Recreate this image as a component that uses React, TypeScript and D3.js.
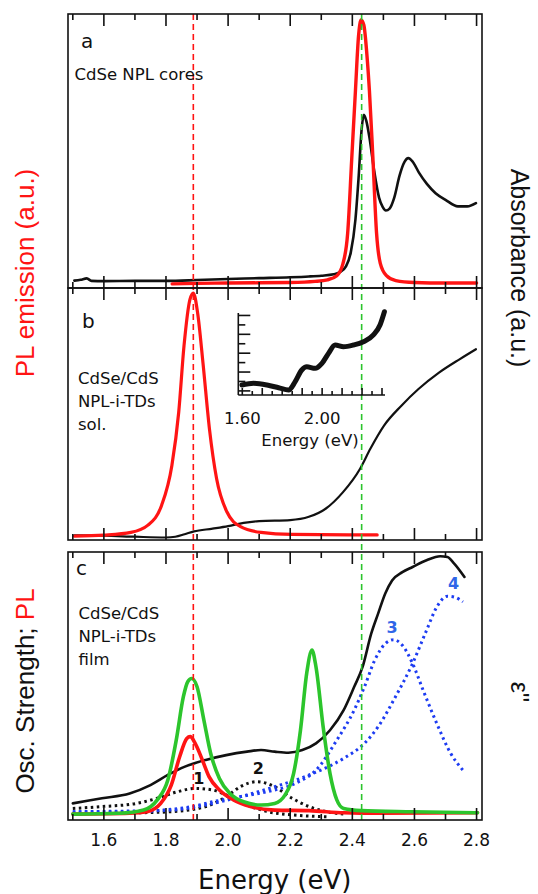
import React from 'react';
import * as d3 from 'd3';

type Pt = [number, number];

// energy axis ticks (eV)
const majorTicks = [1.6, 1.8, 2.0, 2.2, 2.4, 2.6, 2.8];
const minorTicks = [1.5, 1.7, 1.9, 2.1, 2.3, 2.5, 2.7];
const tickLabels = ['1.6', '1.8', '2.0', '2.2', '2.4', '2.6', '2.8'];
const redLineE = 1.888;
const greenLineE = 2.43;

// inset ticks
const insetMajor = [1.6, 1.7, 1.8, 1.9, 2.0, 2.1, 2.2, 2.3];
const insetMinor = [1.65, 1.75, 1.85, 1.95, 2.05, 2.15, 2.25];
const insetLabels: [number, string][] = [[1.6, '1.60'], [2.0, '2.00']];
const insetYTicks = [0.05, 0.165, 0.28, 0.395, 0.51, 0.625, 0.74, 0.855, 0.97];

// panel a: CdSe NPL cores
const absA: Pt[] = [
  [1.505, 0.027], [1.525, 0.03], [1.545, 0.035], [1.56, 0.026], [1.6, 0.025], [1.7, 0.026],
  [1.8, 0.026], [1.9, 0.029], [2.0, 0.033], [2.1, 0.036], [2.2, 0.039], [2.26, 0.042],
  [2.3, 0.045], [2.34, 0.05], [2.36, 0.058], [2.38, 0.08], [2.395, 0.13], [2.41, 0.25],
  [2.42, 0.4], [2.43, 0.58], [2.437, 0.632], [2.445, 0.61], [2.455, 0.55], [2.47, 0.43],
  [2.486, 0.33], [2.498, 0.295], [2.508, 0.283], [2.52, 0.29], [2.535, 0.33], [2.552, 0.41],
  [2.568, 0.46], [2.58, 0.474], [2.595, 0.46], [2.615, 0.42], [2.64, 0.38], [2.668, 0.346],
  [2.7, 0.322], [2.74, 0.298], [2.77, 0.298], [2.798, 0.31],
];
const plA: Pt[] = [
  [1.82, 0.015], [1.9, 0.017], [2.0, 0.018], [2.1, 0.019], [2.2, 0.02], [2.28, 0.024],
  [2.32, 0.03], [2.35, 0.045], [2.37, 0.09], [2.385, 0.2], [2.398, 0.47], [2.41, 0.72],
  [2.42, 0.92], [2.428, 0.978], [2.437, 0.96], [2.447, 0.85], [2.455, 0.72], [2.466, 0.48],
  [2.478, 0.2], [2.49, 0.09], [2.51, 0.045], [2.54, 0.027], [2.6, 0.02], [2.7, 0.018], [2.8, 0.018],
];

// panel b: CdSe/CdS NPL-i-TDs solution
const absB: Pt[] = [
  [1.505, 0.018], [1.6, 0.017], [1.7, 0.013], [1.8, 0.01], [1.83, 0.013], [1.86, 0.023],
  [1.89, 0.034], [1.95, 0.045], [2.0, 0.055], [2.05, 0.068], [2.1, 0.075], [2.2, 0.079],
  [2.26, 0.092], [2.315, 0.125], [2.37, 0.19], [2.425, 0.283], [2.458, 0.362], [2.502, 0.454],
  [2.558, 0.533], [2.613, 0.599], [2.679, 0.664], [2.745, 0.717], [2.798, 0.757],
];
const plB: Pt[] = [
  [1.505, 0.015], [1.6, 0.019], [1.687, 0.03], [1.742, 0.059], [1.786, 0.138], [1.819, 0.296],
  [1.841, 0.507], [1.858, 0.77], [1.877, 0.954], [1.888, 0.98], [1.902, 0.9], [1.919, 0.704],
  [1.94, 0.44], [1.963, 0.243], [1.996, 0.112], [2.04, 0.053], [2.106, 0.03], [2.205, 0.022],
  [2.48, 0.02],
];
const insetAbs: Pt[] = [
  [1.598, 0.122], [1.657, 0.142], [1.724, 0.122], [1.782, 0.089], [1.832, 0.061], [1.865, 0.162],
  [1.898, 0.305], [1.923, 0.345], [1.965, 0.325], [1.999, 0.386], [2.032, 0.508], [2.065, 0.61],
  [2.107, 0.589], [2.157, 0.61], [2.207, 0.65], [2.257, 0.732], [2.29, 0.854], [2.312, 1.016],
];

// panel c: film, oscillator strengths and PL
const absC: Pt[] = [
  [1.5, 0.062], [1.594, 0.081], [1.683, 0.099], [1.75, 0.13], [1.806, 0.168], [1.861, 0.199],
  [1.928, 0.224], [1.994, 0.242], [2.061, 0.255], [2.106, 0.261], [2.15, 0.255], [2.194, 0.251],
  [2.239, 0.261], [2.283, 0.286], [2.328, 0.335], [2.372, 0.41], [2.406, 0.497], [2.433, 0.571],
  [2.461, 0.696], [2.483, 0.77], [2.506, 0.845], [2.528, 0.894], [2.561, 0.925], [2.594, 0.944],
  [2.639, 0.969], [2.683, 0.984], [2.706, 0.981], [2.728, 0.957], [2.761, 0.907],
];
const osc1: Pt[] = [
  [1.5, 0.043], [1.594, 0.05], [1.706, 0.062], [1.772, 0.081], [1.839, 0.106], [1.894, 0.118],
  [1.95, 0.112], [2.006, 0.087], [2.061, 0.056], [2.128, 0.031], [2.206, 0.019], [2.317, 0.012],
];
const osc2: Pt[] = [
  [1.5, 0.025], [1.706, 0.027], [1.817, 0.031], [1.928, 0.05], [1.994, 0.087], [2.039, 0.124],
  [2.094, 0.143], [2.15, 0.124], [2.206, 0.081], [2.261, 0.05], [2.317, 0.031], [2.372, 0.022],
];
const osc3: Pt[] = [
  [1.5, 0.031], [1.706, 0.031], [1.817, 0.04], [1.883, 0.05], [1.95, 0.068], [2.039, 0.087],
  [2.128, 0.106], [2.217, 0.137], [2.283, 0.186], [2.35, 0.298], [2.406, 0.41], [2.439, 0.497],
  [2.472, 0.596], [2.506, 0.658], [2.533, 0.673], [2.561, 0.652], [2.594, 0.584], [2.628, 0.484],
  [2.672, 0.36], [2.717, 0.248], [2.756, 0.186],
];
const osc4: Pt[] = [
  [1.5, 0.031], [1.817, 0.037], [1.928, 0.056], [2.039, 0.087], [2.15, 0.124], [2.261, 0.168],
  [2.372, 0.23], [2.439, 0.286], [2.483, 0.348], [2.539, 0.46], [2.594, 0.584], [2.639, 0.708],
  [2.672, 0.795], [2.706, 0.835], [2.728, 0.832], [2.756, 0.814],
];
const plRedC: Pt[] = [
  [1.5, 0.022], [1.683, 0.025], [1.739, 0.031], [1.783, 0.062], [1.817, 0.13], [1.844, 0.236],
  [1.867, 0.304], [1.878, 0.311], [1.894, 0.286], [1.917, 0.224], [1.939, 0.161], [1.972, 0.112],
  [2.017, 0.075], [2.072, 0.05], [2.15, 0.037], [2.261, 0.035], [2.372, 0.027], [2.483, 0.025],
  [2.803, 0.027],
];
const plGreenC: Pt[] = [
  [1.5, 0.022], [1.65, 0.025], [1.728, 0.037], [1.772, 0.075], [1.806, 0.149], [1.833, 0.298],
  [1.856, 0.46], [1.87, 0.516], [1.883, 0.528], [1.9, 0.497], [1.922, 0.373], [1.944, 0.248],
  [1.972, 0.155], [2.006, 0.099], [2.05, 0.068], [2.106, 0.056], [2.15, 0.062], [2.183, 0.093],
  [2.211, 0.174], [2.233, 0.335], [2.253, 0.547], [2.27, 0.634], [2.283, 0.571], [2.306, 0.348],
  [2.328, 0.174], [2.35, 0.075], [2.372, 0.043], [2.428, 0.035], [2.594, 0.031], [2.803, 0.027],
];
const oscLabels: [string, number, number, string][] = [
  ['1', 1.906, 0.135, '#111'],
  ['2', 2.097, 0.172, '#111'],
  ['3', 2.528, 0.697, '#2f66e8'],
  ['4', 2.726, 0.862, '#2f66e8'],
];

const RED = '#ff1414';
const GREEN = '#2cc52c';
const BLUE = '#1d3cf2';
const sans = "'DejaVu Sans', Verdana, sans-serif";
const arial = "'Liberation Sans', Arial, sans-serif";

const x = d3.scaleLinear().domain([1.4845, 2.8175]).range([68, 482]);
const panels = [
  { y: d3.scaleLinear().domain([0, 1]).range([288, 14]) },
  { y: d3.scaleLinear().domain([0, 1]).range([540, 288]) },
  { y: d3.scaleLinear().domain([0, 1]).range([820, 552]) },
];
const [yA, yB, yC] = panels.map(p => p.y);
const xIn = d3.scaleLinear().domain([1.58, 2.315]).range([238.3, 385]);
const yIn = d3.scaleLinear().domain([0, 1]).range([395, 313]);

function linePath(data: Pt[], xs: d3.ScaleLinear<number, number>, ys: d3.ScaleLinear<number, number>) {
  return d3.line<Pt>().x(d => xs(d[0])).y(d => ys(d[1])).curve(d3.curveMonotoneX)(data) || '';
}

function Frame({ ys }: { ys: d3.ScaleLinear<number, number> }) {
  const [x0, x1] = x.range();
  const yb = ys(0), yt = ys(1);
  const ticks: JSX.Element[] = [];
  majorTicks.forEach((t, i) => {
    ticks.push(<line key={'mt' + i} x1={x(t)} x2={x(t)} y1={yt} y2={yt + 12} />);
    ticks.push(<line key={'mb' + i} x1={x(t)} x2={x(t)} y1={yb} y2={yb - 12} />);
  });
  minorTicks.forEach((t, i) => {
    ticks.push(<line key={'nt' + i} x1={x(t)} x2={x(t)} y1={yt} y2={yt + 6} />);
    ticks.push(<line key={'nb' + i} x1={x(t)} x2={x(t)} y1={yb} y2={yb - 6} />);
  });
  return (
    <g stroke="#111" strokeWidth={1.6} fill="none">
      <rect x={x0} y={yt} width={x1 - x0} height={yb - yt} />
      {ticks}
    </g>
  );
}

export default function App() {
  const base = { fill: 'none', strokeLinejoin: 'round' as const, strokeLinecap: 'round' as const };
  return (
    <svg width={538} height={894} style={{ position: 'absolute', left: 0, top: 0, background: '#fff' }}>
      {/* curves */}
      <path d={linePath(absA, x, yA)} {...base} stroke="#111" strokeWidth={2.6} />
      <path d={linePath(plA, x, yA)} {...base} stroke={RED} strokeWidth={3.4} />
      <path d={linePath(absB, x, yB)} {...base} stroke="#111" strokeWidth={2.2} />
      <path d={linePath(plB, x, yB)} {...base} stroke={RED} strokeWidth={3.2} />

      <path d={linePath(osc1, x, yC)} fill="none" stroke="#111" strokeWidth={3} strokeDasharray="2.5 3.5" />
      <path d={linePath(osc2, x, yC)} fill="none" stroke="#111" strokeWidth={3} strokeDasharray="2.5 3.5" />
      <path d={linePath(osc3, x, yC)} fill="none" stroke={BLUE} strokeWidth={3} strokeDasharray="2.5 3.5" />
      <path d={linePath(osc4, x, yC)} fill="none" stroke={BLUE} strokeWidth={3} strokeDasharray="2.5 3.5" />
      <path d={linePath(absC, x, yC)} {...base} stroke="#111" strokeWidth={2.6} />
      <path d={linePath(plRedC, x, yC)} {...base} stroke={RED} strokeWidth={3.6} />
      <path d={linePath(plGreenC, x, yC)} {...base} stroke={GREEN} strokeWidth={3.6} />

      {/* reference lines */}
      <line x1={x(redLineE)} x2={x(redLineE)} y1={yA(1)} y2={yC(0)} stroke={RED} strokeWidth={1.6} strokeDasharray="6 4" />
      <line x1={x(greenLineE)} x2={x(greenLineE)} y1={yA(1)} y2={yC(0)} stroke={GREEN} strokeWidth={1.6} strokeDasharray="6 4" />

      {panels.map((p, i) => <Frame key={i} ys={p.y} />)}

      {/* inset */}
      <g stroke="#111" strokeWidth={1.6} fill="none">
        <line x1={xIn.range()[0]} x2={xIn.range()[0]} y1={yIn(0)} y2={yIn(1)} />
        <line x1={xIn.range()[0]} x2={xIn.range()[1]} y1={yIn(0)} y2={yIn(0)} />
        {insetMajor.map(t => <line key={'im' + t} x1={xIn(t)} x2={xIn(t)} y1={yIn(0)} y2={yIn(0) - 7} />)}
        {insetMinor.map(t => <line key={'in' + t} x1={xIn(t)} x2={xIn(t)} y1={yIn(0)} y2={yIn(0) - 4} />)}
        {insetYTicks.map((t, i) => (
          <line key={'iy' + t} x1={xIn.range()[0]} x2={xIn.range()[0] + (i % 2 === 0 ? 12 : 7)} y1={yIn(t)} y2={yIn(t)} />
        ))}
      </g>
      <path d={linePath(insetAbs, xIn, yIn)} {...base} stroke="#111" strokeWidth={5} />
      {insetLabels.map(([t, s]) => (
        <text key={s} x={xIn(t)} y={424} textAnchor="middle" fontFamily={sans} fontSize={16.5} fill="#111">{s}</text>
      ))}
      <text x={310} y={446} textAnchor="middle" fontFamily={sans} fontSize={16.5} fill="#111">Energy (eV)</text>

      {/* panel texts */}
      <g fontFamily={sans} fill="#111">
        <text x={81} y={48} fontSize={20}>a</text>
        <text x={74.5} y={80} fontSize={16.5}>CdSe NPL cores</text>
        <text x={82} y={328} fontSize={20}>b</text>
        <text x={78} y={384} fontSize={16.5}>CdSe/CdS</text>
        <text x={78} y={407} fontSize={16.5}>NPL-i-TDs</text>
        <text x={78} y={430} fontSize={16.5}>sol.</text>
        <text x={76} y={575} fontSize={20}>c</text>
        <text x={78.5} y={619} fontSize={16.5}>CdSe/CdS</text>
        <text x={78.5} y={642} fontSize={16.5}>NPL-i-TDs</text>
        <text x={78.5} y={665} fontSize={16.5}>film</text>
      </g>
      {oscLabels.map(([s, e, v, c]) => (
        <text key={s} x={x(e)} y={yC(v)} textAnchor="middle" fontFamily={sans} fontWeight="bold" fontSize={16} fill={c}>{s}</text>
      ))}

      {/* x axis labels */}
      {majorTicks.map((t, i) => (
        <text key={'tl' + i} x={x(t)} y={846} textAnchor="middle" fontFamily={sans} fontSize={17} fill="#111">{tickLabels[i]}</text>
      ))}
      <text x={x(2.15)} y={889} textAnchor="middle" fontFamily={sans} fontSize={26} fill="#111">Energy (eV)</text>

      {/* y axis labels */}
      <text transform="translate(34,273) rotate(-90)" textAnchor="middle" fontFamily={arial} fontSize={26} fill={RED}>PL emission (a.u.)</text>
      <text transform="translate(511,268) rotate(90)" textAnchor="middle" fontFamily={arial} fontSize={25} fill="#111">Absorbance (a.u.)</text>
      <text transform="translate(34,691) rotate(-90)" textAnchor="middle" fontFamily={arial} fontSize={26} fill="#111">
        Osc. Strength; <tspan fill={RED}>PL</tspan>
      </text>
      <text transform="translate(511,692) rotate(90)" textAnchor="middle" fontFamily={arial} fontSize={25} fill="#111">ε''</text>
    </svg>
  );
}
